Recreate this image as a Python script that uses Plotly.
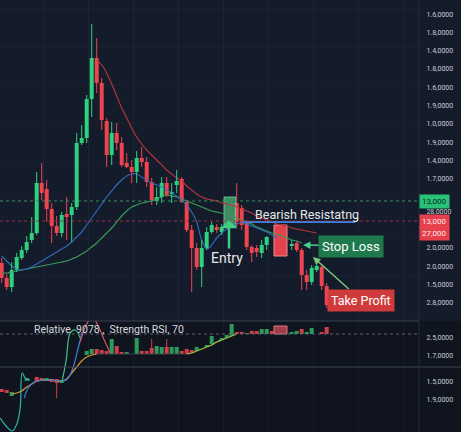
import plotly.graph_objects as go

# ---------------- main price candles (candle index, price units) ----------------
cx = [0,1,2,3,4,5,6,7,8,9,10,11,12,13,14,15,16,17,18,19,20,21,22,23,24,25,26,27,28,29,
      30,31,32,33,34,35,36,37,38,39,40,41,42,43,44,47,48,49,50,51,52,53,58,59,60,61,62,63,64,65]
c_open = [67,52,43,60,72,80,90,97,147,141,121,104,97,116,115,123,187,192,231,272,
          247,209,175,197,187,167,163,158,172,168,148,129,133,147,136,145,151,128,100,82,
          63,82,98,103,98,127,122,108,83,82,77,85,84,87,80,55,48,60,63,44]
c_high = [72,56,68,77,84,94,113,158,167,150,127,114,118,133,127,197,205,235,306,292,
          252,212,208,207,193,177,170,179,183,173,152,143,153,153,147,160,153,130,105,87,
          90,103,108,106,106,147,125,110,85,85,90,94,90,89,82,60,65,70,65,47]
c_low = [47,40,38,58,70,77,87,95,130,108,87,94,93,90,88,120,185,187,213,237,
         200,163,165,180,163,162,147,147,163,143,125,125,127,133,127,137,127,98,38,60,
         43,80,96,97,95,103,100,80,68,73,72,80,80,78,40,40,45,58,40,22]
c_close = [52,43,60,73,80,88,97,147,137,121,104,97,115,113,123,187,192,231,272,247,
           210,175,197,187,165,163,158,172,168,148,130,133,147,135,138,149,128,100,82,63,
           82,98,105,100,103,108,105,83,77,78,85,93,86,80,55,48,62,64,44,25]

# highlighted candles
entry_x, entry_open, entry_close = 45.66, 103, 133
bear_x, bear_open, bear_close = 55.76, 105, 74

# moving averages
red_ma_x = list(range(19, 64))
red_ma = [270,265,257,246,234,222,212,202,193,186,180,175,170,165,160,156,152,149,144,140,
          136,133,131,130,129,127,126,125,123,121,119,117,114,112,110,108,106,105,104,102,
          101,100,99,98,97]
blue_ma_x = list(range(0, 56))
blue_ma = [74,69,64,61,60,61,63,66,69,72,75,78,81,84,88,93,98,105,112,119,
           126,133,139,145,150,154,156,156,153,150,147,145,143,140,137,134,130,125,118,108,
           90,81,85,92,97,101,104,106,107,106,104,102,100,98,95,92]
green_ma_x = list(range(0, 61))
green_ma = [57,57,58,59,60,61,62,63,64,65,66,67,68,69,71,73,76,79,83,87,
            92,97,102,108,114,119,123,125,127,128,129,131,133,135,134,133,131,129,127,125,
            123,121,119,118,117,115,114,112,110,108,106,103,101,99,97,96,94,92,90,89,87]

# price levels
resist_level = 108
green_line_level = 129
red_line_level = 109
resist_from, resist_to = 48.3, 70.7

main_tickvals = [315,297,279,261,242,224,206,187,169,151,118,82,63,45,27]
main_ticktext = ["1.6,0000","1.8,0000","1.4,0000","1.8,0000","1.6,0000","1.9,0000","1.0,0000",
                 "1.9,0000","1.4,0000","1.7,0000","28,0000","2.0,0000","2.0,0000","1.5,0000","2.8,0000"]
main_grid = [321,283,245,207,168,130,92,54,16]

# ---------------- lower RSI panel ----------------
lower_x = [0,1,2,5,7,8,9,10,11,12,17,18,19,20,21,22,23,24,25,27,28,29,30,31,32,33,34,35,36,37,
           38,39,41,42,44,45,46,47,48,49,50,51,52,53,54,58,59,60,61,62,64,65]
l_open = [43,42,36,51,55,54,51,53,53,49,77,78,83,82,81,78,86,80,78,78,81,81,84,78,78,85,78,78,81,83,
          82,81,85,88,92,94,96,100,100,98,101,101,98,98,101,98,98,103,98,98,100,105]
l_close = [40,39,40,54,50,51,54,50,49,52,81,83,78,78,78,93,78,78,80,94,78,78,78,86,85,78,85,85,78,78,
           79,85,87,96,94,97,108,98,98,99,98,98,103,103,98,100,101,98,100,104,98,98]
l_high = [43,42,40,54,55,54,54,53,53,52,81,83,83,82,81,93,86,80,80,94,81,81,93,86,85,93,85,85,81,83,
          82,85,87,96,94,97,108,100,100,99,101,101,103,103,101,100,101,103,100,104,100,105]
l_low = [40,39,36,51,50,51,51,50,34,49,77,78,78,78,78,78,78,78,78,78,78,78,78,78,78,78,78,78,78,78,
         79,81,85,88,92,94,96,98,98,98,98,98,98,98,98,98,98,98,98,98,98,98]
l_box_x, l_box_open, l_box_close = 55.76, 98, 106

orange_x = list(range(2, 20))
orange_v = [38,39,41,45,48,51,52,52,52,51,51,53,59,65,71,75,77,78]
flat_x = list(range(19, 38))
flat_v = [78]*19
lime_x = list(range(37, 48))
lime_v = [78,79,81,83,85,87,90,92,94,96,98]
teal_x = [-0.3,0.7,2.1,3.1,3.7,4.1,4.7,5.7]
teal_v = [14,7,1,9,24,59,54,52]
mint_x = [12.1,12.9,13.7,14.7,15.7]
mint_v = [51,72,99,102,94]
blue2_x = [4.5,5.3,6.5,9,12.9,14.1,15.3,16.1]
blue2_v = [34,44,50,52,52,62,84,100]
salmon_x = [15.7,16.9,18.1,19.3,20.5,21.7]
salmon_v = [90,107,115,106,92,79]
rsi_level = 98
lower_tickvals = [94,76,50,32]
lower_ticktext = ["2.5,0000","1.7,0000","1.5,0000","1.9,0000"]

# ---------------- styling ----------------
BG = "#141b2a"
LOWER_BG = "#0f141e"
GRID = "#1c2332"
UP, DOWN = "#2fd17e", "#ee4450"
L_UP, L_DOWN = "#2c9a5d", "#cf3f4a"
FONT = "Roboto"
H = 432
lower_frac = 111 / H

fig = go.Figure()


def add_candles(xs, o, h, l, c, up, down, xa, ya, width):
    for col in (up, down):
        wx, wy = [], []
        for x, oo, hh, ll, cc in zip(xs, o, h, l, c):
            if (cc >= oo) == (col == up) and hh > ll:
                wx += [x, x, None]
                wy += [ll, hh, None]
        fig.add_trace(go.Scatter(x=wx, y=wy, mode="lines", line=dict(color=col, width=1),
                                 xaxis=xa, yaxis=ya, hoverinfo="skip", showlegend=False))
    cols = [up if cc >= oo else down for oo, cc in zip(o, c)]
    fig.add_trace(go.Bar(x=xs, base=[min(a, b) for a, b in zip(o, c)],
                         y=[max(abs(b - a), 1) for a, b in zip(o, c)],
                         width=width, marker=dict(color=cols, line=dict(width=0)),
                         xaxis=xa, yaxis=ya, hoverinfo="skip", showlegend=False))


# MAs (drawn below candles)
fig.add_trace(go.Scatter(x=green_ma_x, y=green_ma, mode="lines", line=dict(color="#3a9a5a", width=1.2, shape="spline"),
                         hoverinfo="skip", showlegend=False))
fig.add_trace(go.Scatter(x=blue_ma_x, y=blue_ma, mode="lines", line=dict(color="#2f68b8", width=1.2, shape="spline"),
                         hoverinfo="skip", showlegend=False))
fig.add_trace(go.Scatter(x=red_ma_x, y=red_ma, mode="lines", line=dict(color="#b3333c", width=1.2, shape="spline"),
                         hoverinfo="skip", showlegend=False))

add_candles(cx, c_open, c_high, c_low, c_close, UP, DOWN, "x", "y", 0.8)

# highlighted entry / bearish candles
fig.add_trace(go.Bar(x=[entry_x], base=[entry_open], y=[entry_close - entry_open], width=2.4,
                     marker=dict(color="rgba(90,210,135,0.62)", line=dict(color="rgba(130,230,165,0.7)", width=1)),
                     hoverinfo="skip", showlegend=False))
fig.add_trace(go.Bar(x=[bear_x], base=[bear_close], y=[bear_open - bear_close], width=2.6,
                     marker=dict(color="#e2434d", line=dict(color="#f38a8f", width=1)),
                     hoverinfo="skip", showlegend=False))

# resistance line
fig.add_trace(go.Scatter(x=[resist_from, resist_to], y=[resist_level, resist_level], mode="lines",
                         line=dict(color="#3a7fe0", width=2), hoverinfo="skip", showlegend=False))

# lower panel lines
for xs, vs, col, w in [(flat_x, flat_v, "#3a4250", 1), (orange_x, orange_v, "#e39a36", 1.2),
                       (lime_x, lime_v, "#a6c845", 1.2), (teal_x, teal_v, "#34b3a7", 1.2),
                       (blue2_x, blue2_v, "#3a80e0", 1.2), (mint_x, mint_v, "#45c18a", 1.2),
                       (salmon_x, salmon_v, "#cf5a5a", 1.2)]:
    fig.add_trace(go.Scatter(x=xs, y=vs, mode="lines", line=dict(color=col, width=w, shape="spline"),
                             xaxis="x2", yaxis="y2", hoverinfo="skip", showlegend=False))

add_candles(lower_x, l_open, l_high, l_low, l_close, L_UP, L_DOWN, "x2", "y2", 0.8)
fig.add_trace(go.Bar(x=[l_box_x], base=[l_box_open], y=[l_box_close - l_box_open], width=2.6,
                     marker=dict(color="rgba(200,70,80,0.8)", line=dict(color="#e07a80", width=1)),
                     xaxis="x2", yaxis="y2", hoverinfo="skip", showlegend=False))

# ---------------- shapes ----------------
shapes = []
shapes.append(dict(type="rect", xref="paper", yref="paper", x0=-0.01, x1=1.11, y0=0, y1=lower_frac,
                   fillcolor=LOWER_BG, line=dict(width=0), layer="below"))
for g in main_grid:
    shapes.append(dict(type="line", xref="paper", yref="y", x0=0, x1=1, y0=g, y1=g,
                       line=dict(color=GRID, width=1), layer="below"))
shapes.append(dict(type="line", xref="paper", yref="y", x0=0, x1=1, y0=green_line_level, y1=green_line_level,
                   line=dict(color="#2f8f5a", width=1, dash="dot")))
shapes.append(dict(type="line", xref="paper", yref="y", x0=0, x1=1, y0=red_line_level, y1=red_line_level,
                   line=dict(color="#9c2f3a", width=1, dash="dot")))
shapes.append(dict(type="line", xref="paper", yref="paper", x0=0, x1=1, y0=lower_frac, y1=lower_frac,
                   line=dict(color="#3b4252", width=1)))
shapes.append(dict(type="line", xref="paper", yref="y2", x0=0, x1=1, y0=rsi_level, y1=rsi_level,
                   line=dict(color="#5a6172", width=1, dash="dot")))
shapes.append(dict(type="line", xref="paper", yref="y2", x0=0, x1=1.11, y0=65, y1=65,
                   line=dict(color="#3f4655", width=1)))
shapes.append(dict(type="line", xref="paper", yref="paper", x0=1, x1=1, y0=0, y1=1,
                   line=dict(color="#262d3b", width=1)))

# ---------------- annotations ----------------
ann = []
ann.append(dict(x=50.26, y=116, xref="x", yref="y", text="Bearish Resistatng", showarrow=False,
                xanchor="left", font=dict(family=FONT, size=12.5, color="#e6e8ec")))
ann.append(dict(x=45.1, y=72, xref="x", yref="y", text="Entry", showarrow=False,
                font=dict(family=FONT, size=14, color="#e6e8ec")))
ann.append(dict(x=45.46, y=110, xref="x", yref="y", ax=0, ay=30, text="", showarrow=True,
                arrowhead=1, arrowsize=1.1, arrowwidth=2.5, arrowcolor="#3fcf83"))
ann.append(dict(x=60.26, y=85, xref="x", yref="y", ax=48, ay=1, text="Stop Loss", showarrow=True,
                arrowhead=2, arrowsize=1, arrowwidth=1.5, arrowcolor="#46d08c",
                bgcolor="#1e7a4c", borderpad=3, font=dict(family=FONT, size=13, color="#ffffff")))
ann.append(dict(x=62.26, y=73, xref="x", yref="y", ax=48, ay=43, text="Take Profit", showarrow=True,
                arrowhead=2, arrowsize=1, arrowwidth=1.5, arrowcolor="#7cc87a",
                bgcolor="#cf3b3b", borderpad=3, font=dict(family=FONT, size=12.5, color="#ffffff")))
ann.append(dict(x=6.06, y=103, xref="x2", yref="y2", text="Relative  9078 ,  Strength RSI, 70", showarrow=False,
                xanchor="left", font=dict(family=FONT, size=10.5, color="#d6d9df")))
for yv, txt, bg, fc in [(green_line_level, "13,000", "#27c178", "#0c2a1a"),
                        (red_line_level, "13,000", "#e5404c", "#ffe8ea"),
                        (97, "27,000", "#e5404c", "#ffe8ea")]:
    ann.append(dict(x=1.0, y=yv, xref="paper", yref="y", text=txt, showarrow=False, xanchor="left",
                    bgcolor=bg, borderpad=2, font=dict(family=FONT, size=8, color=fc)))

grid_x = [8.26 + 9 * k for k in range(9)]

fig.update_layout(
    width=461, height=H, margin=dict(l=0, r=42, t=0, b=0),
    paper_bgcolor=BG, plot_bgcolor=BG, barmode="overlay", showlegend=False,
    shapes=shapes, annotations=ann, hovermode=False,
    xaxis=dict(domain=[0, 1], range=[-0.34, 83.46], anchor="y", showticklabels=False,
               tickvals=grid_x, showgrid=True, gridcolor=GRID, zeroline=False, showline=False, ticks=""),
    xaxis2=dict(domain=[0, 1], range=[-0.34, 83.46], anchor="y2", showticklabels=False,
                tickvals=grid_x, showgrid=True, gridcolor="#161c28", zeroline=False, showline=False, ticks=""),
    yaxis=dict(domain=[lower_frac, 1], range=[9, 330], anchor="x", side="right",
               tickvals=main_tickvals, ticktext=main_ticktext, showgrid=False, zeroline=False,
               ticks="outside", ticklen=5, tickcolor="rgba(0,0,0,0)",
               tickfont=dict(family=FONT, size=7, color="#c9cdd6")),
    yaxis2=dict(domain=[0, lower_frac], range=[0, 111], anchor="x2", side="right",
                tickvals=lower_tickvals, ticktext=lower_ticktext, showgrid=False, zeroline=False,
                ticks="outside", ticklen=5, tickcolor="rgba(0,0,0,0)",
                tickfont=dict(family=FONT, size=7, color="#c9cdd6")),
)

fig.write_html("out.html")
